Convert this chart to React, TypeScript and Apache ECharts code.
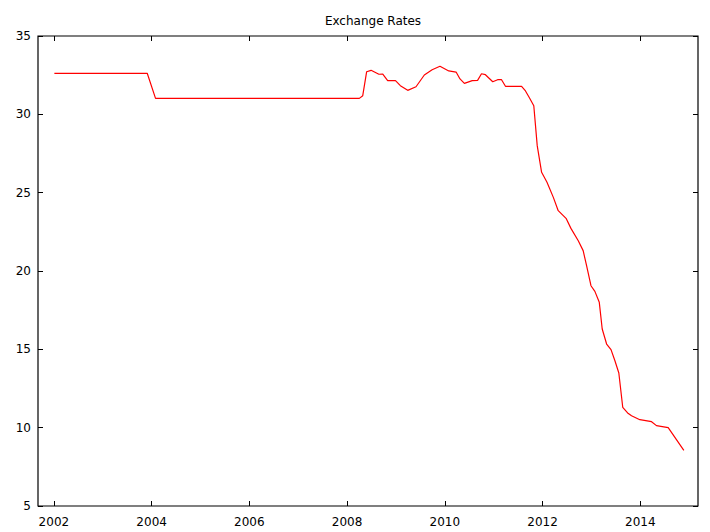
import React, { useEffect, useRef } from "react";
import * as echarts from "echarts";

const title = "Exchange Rates";
const yearTicks = [2002, 2004, 2006, 2008, 2010, 2012, 2014];
const yTicks = [5, 10, 15, 20, 25, 30, 35];

const years = [
  2002.01, 2003.91, 2004.08, 2008.25, 2008.32, 2008.4, 2008.49, 2008.65, 2008.73, 2008.83,
  2008.99, 2009.09, 2009.24, 2009.41, 2009.58, 2009.74, 2009.9, 2010.08, 2010.23, 2010.31,
  2010.4, 2010.56, 2010.67, 2010.75, 2010.83, 2010.98, 2011.08, 2011.16, 2011.24, 2011.57,
  2011.65, 2011.73, 2011.82, 2011.89, 2011.98, 2012.09, 2012.22, 2012.32, 2012.48, 2012.58,
  2012.73, 2012.83, 2012.9, 2012.99, 2013.07, 2013.16, 2013.22, 2013.31, 2013.4, 2013.48,
  2013.56, 2013.64, 2013.74, 2013.82, 2013.99, 2014.23, 2014.33, 2014.57, 2014.89,
];
const rates = [
  32.62, 32.62, 31.02, 31.02, 31.19, 32.72, 32.81, 32.56, 32.57, 32.15,
  32.15, 31.83, 31.53, 31.76, 32.51, 32.85, 33.07, 32.77, 32.7, 32.26,
  31.98, 32.15, 32.17, 32.59, 32.53, 32.08, 32.21, 32.21, 31.79, 31.79,
  31.49, 31.06, 30.55, 28.0, 26.3, 25.66, 24.7, 23.85, 23.36, 22.72,
  21.93, 21.3, 20.34, 19.06, 18.7, 18.0, 16.3, 15.34, 14.98, 14.27,
  13.49, 11.3, 10.94, 10.76, 10.51, 10.38, 10.13, 10.0, 8.55,
];

const FONT = "DejaVu Sans";

export default function App() {
  const ref = useRef<HTMLDivElement>(null);
  useEffect(() => {
    if (!ref.current) return;
    const chart = echarts.init(ref.current, null, { renderer: "svg" });
    const xMin = 2001.675;
    const xMax = 2015.18;
    const baseX = {
      type: "value" as const,
      min: xMin,
      max: xMax,
      splitLine: { show: false },
      axisLine: { show: false },
      axisTick: {
        show: true,
        inside: true,
        length: 5,
        customValues: yearTicks,
        lineStyle: { color: "#000", width: 1 },
      },
    };
    const baseY = {
      type: "value" as const,
      min: 5,
      max: 35,
      splitLine: { show: false },
      axisLine: { show: false },
      axisTick: {
        show: true,
        inside: true,
        length: 5,
        customValues: yTicks,
        lineStyle: { color: "#000", width: 1 },
      },
    };
    chart.setOption({
      animation: false,
      backgroundColor: "#fff",
      title: {
        text: title,
        left: 368,
        top: 10,
        textAlign: "center",
        textStyle: { fontFamily: FONT, fontSize: 12, fontWeight: "normal", color: "#000" },
      },
      grid: {
        left: 38,
        right: 12,
        top: 36,
        bottom: 26,
        show: true,
        borderColor: "#000",
        borderWidth: 1.2,
        backgroundColor: "transparent",
      },
      xAxis: [
        {
          ...baseX,
          position: "bottom",
          axisLabel: {
            show: true,
            customValues: yearTicks,
            formatter: (v: number) => String(Math.round(v)),
            fontFamily: FONT,
            fontSize: 12,
            color: "#000",
            margin: 10,
          },
        },
        {
          ...baseX,
          position: "top",
          axisLabel: { show: false },
        },
      ],
      yAxis: [
        {
          ...baseY,
          position: "left",
          axisLabel: {
            show: true,
            customValues: yTicks,
            fontFamily: FONT,
            fontSize: 12,
            color: "#000",
            margin: 7,
          },
        },
        {
          ...baseY,
          position: "right",
          axisLabel: { show: false },
        },
      ],
      series: [
        {
          type: "line",
          data: years.map((y, i) => [y, rates[i]]),
          showSymbol: false,
          symbol: "none",
          lineStyle: { color: "#ff0000", width: 1.2 },
          xAxisIndex: 0,
          yAxisIndex: 0,
        },
      ],
    });
    return () => chart.dispose();
  }, []);
  return (
    <div
      ref={ref}
      style={{ position: "fixed", left: 0, top: 0, width: 710, height: 532, background: "#fff" }}
    />
  );
}
